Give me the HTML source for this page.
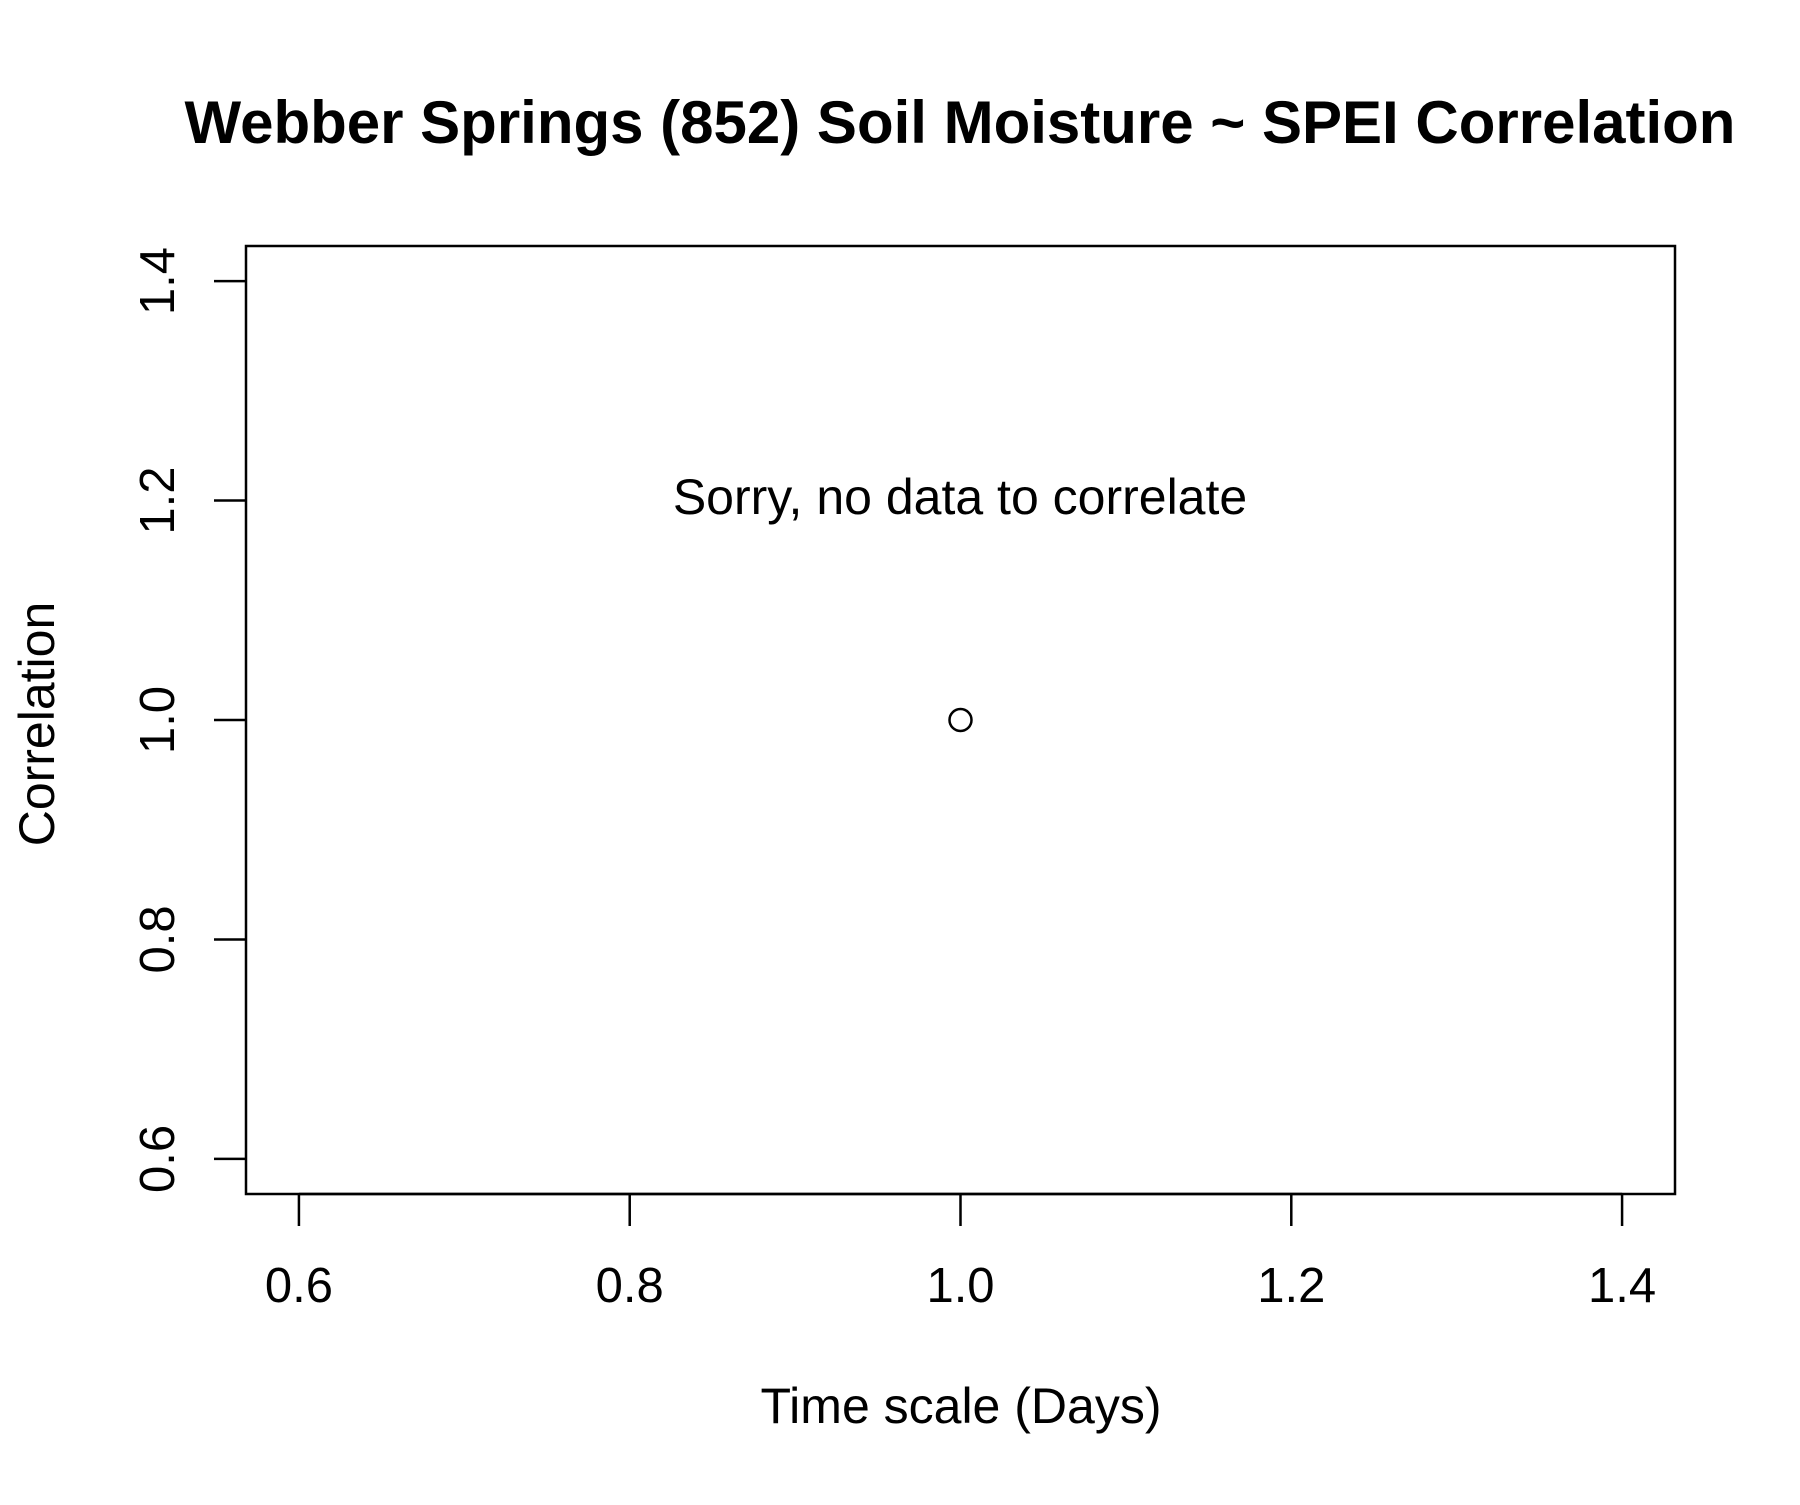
<!DOCTYPE html>
<html><head><meta charset="utf-8"><style>
html,body{margin:0;padding:0;background:#fff}
text{font-family:"Liberation Sans",Arial,sans-serif;fill:#000}
</style></head><body>
<svg id="chart" width="1800" height="1500" viewBox="0 0 1800 1500" xmlns="http://www.w3.org/2000/svg">
<rect width="1800" height="1500" fill="#fff"/>
<text x="960" y="143" text-anchor="middle" font-size="60" font-weight="bold">Webber Springs (852) Soil Moisture ~ SPEI Correlation</text>
<rect x="246" y="246" width="1429" height="948" fill="none" stroke="#000" stroke-width="2.5"/>
<g id="xaxis"></g>
<g id="yaxis"></g>
<g id="points"></g>
<text x="960" y="514" text-anchor="middle" font-size="50">Sorry, no data to correlate</text>
<text x="961" y="1423" text-anchor="middle" font-size="50">Time scale (Days)</text>
<text transform="translate(54,724) rotate(-90)" text-anchor="middle" font-size="50">Correlation</text>
</svg>
<script>
const xTicks = [0.6, 0.8, 1.0, 1.2, 1.4];
const xTickLabels = ["0.6", "0.8", "1.0", "1.2", "1.4"];
const yTicks = [0.6, 0.8, 1.0, 1.2, 1.4];
const yTickLabels = ["0.6", "0.8", "1.0", "1.2", "1.4"];
const xValues = [1];
const yValues = [1];

const NS = "http://www.w3.org/2000/svg";
const L = 246, R = 1675, T = 246, B = 1194;
const xMin = 0.568, xMax = 1.432, yMin = 0.568, yMax = 1.432;
function sx(v){ return L + (v - xMin) / (xMax - xMin) * (R - L); }
function sy(v){ return B - (v - yMin) / (yMax - yMin) * (B - T); }
function mk(tag, attrs){ const e = document.createElementNS(NS, tag); for (const k in attrs) e.setAttribute(k, attrs[k]); return e; }

const xg = document.getElementById('xaxis');
xg.appendChild(mk('line', {x1: sx(xTicks[0]), x2: sx(xTicks[xTicks.length-1]), y1: B, y2: B, stroke: '#000', 'stroke-width': 2.5}));
xTicks.forEach((v, i) => {
  const t = mk('line', {x1: sx(v), x2: sx(v), y1: B, y2: B + 32, stroke: '#000', 'stroke-width': 2.5});
  
  
  xg.appendChild(t);
  const lb = mk('text', {x: sx(v), y: B + 108, 'text-anchor': 'middle', 'font-size': 49});
  lb.textContent = xTickLabels[i];
  
  
  xg.appendChild(lb);
});
const yg = document.getElementById('yaxis');
yTicks.forEach((v, i) => {
  const t = mk('line', {x1: L - 32, x2: L, y1: sy(v), y2: sy(v), stroke: '#000', 'stroke-width': 2.5});
  
  
  yg.appendChild(t);
  const lb = mk('text', {transform: 'translate(174,' + sy(v) + ') rotate(-90)', 'text-anchor': 'middle', 'font-size': 49});
  lb.textContent = yTickLabels[i];
  
  
  yg.appendChild(lb);
});
const pg = document.getElementById('points');
xValues.forEach((v, i) => {
  const c = mk('circle', {cx: sx(v), cy: sy(yValues[i]), r: 11, fill: 'none', stroke: '#000', 'stroke-width': 2.5});
  
  
  pg.appendChild(c);
});
</script>
</body></html>
